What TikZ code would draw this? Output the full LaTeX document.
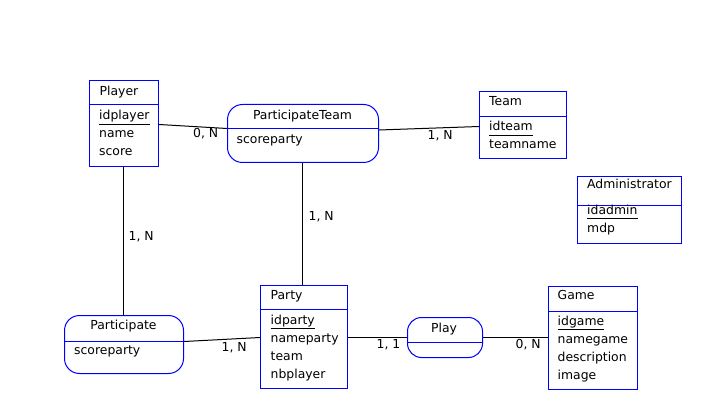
\documentclass[tikz,border=0pt]{standalone}
\usepackage{fontspec}
\setmainfont{DejaVu Sans}
\begin{document}
\begin{tikzpicture}[x=1pt,y=-1pt,
  font=\fontsize{12.4pt}{14pt}\selectfont,
  ent/.style={draw=blue, line width=1pt, anchor=north west, inner sep=0pt},
  rel/.style={draw=blue, line width=1pt, anchor=north west, inner sep=0pt, rounded corners=15pt},
  div/.style={draw=blue, line width=1pt},
  txt/.style={anchor=base west, inner sep=0pt},
  ttl/.style={anchor=base, inner sep=0pt},
  ul/.style={draw=black, line width=1pt},
  link/.style={draw=black, line width=1pt},
  card/.style={anchor=base west, inner sep=0pt}]
\useasboundingbox (0,0) rectangle (711,419);
\fill[white] (0,0) rectangle (711,419);

% Player
\node[ent, minimum width=69pt, minimum height=86pt] (player) at (89,80) {};
\draw[div] (89,105) -- (158,105);
\node[txt] (plT) at (99.5,96) {Player};
\node[txt] (plA) at (99,120) {idplayer};
\node[txt] (plB) at (99,138) {name};
\node[txt] (plC) at (99,156) {score};
\draw[ul] ([yshift=-4.5pt]plA.base west) -- ([yshift=-4.5pt]plA.base east);

% ParticipateTeam
\node[rel, minimum width=151pt, minimum height=58pt] (pt) at (227,104) {};
\draw[div] (227,129) -- (378,129);
\node[ttl] (ptT) at (302.5,119.5) {ParticipateTeam};
\node[txt] (ptA) at (236.5,144) {scoreparty};

% Team
\node[ent, minimum width=87pt, minimum height=67pt] (team) at (479,91) {};
\draw[div] (479,117) -- (566,117);
\node[txt] (tmT) at (489,106) {Team};
\node[txt] (tmA) at (489,131) {idteam};
\node[txt] (tmB) at (489,149) {teamname};
\draw[ul] ([yshift=-4.5pt]tmA.base west) -- ([yshift=-4.5pt]tmA.base east);

% Administrator
\node[ent, minimum width=104pt, minimum height=67pt] (admin) at (577,176) {};
\draw[div] (577,206) -- (681,206);
\node[txt] (adT) at (587,188.5) {Administrator};
\node[txt] (adA) at (587,214.5) {idadmin};
\node[txt] (adB) at (587,232.5) {mdp};
\draw[ul] ([yshift=-4.5pt]adA.base west) -- ([yshift=-4.5pt]adA.base east);

% Participate
\node[rel, minimum width=119pt, minimum height=58pt] (part) at (64,315) {};
\draw[div] (64,341) -- (183,341);
\node[ttl] (paT) at (123.5,329.5) {Participate};
\node[txt] (paA) at (74,354.5) {scoreparty};

% Party
\node[ent, minimum width=87pt, minimum height=103pt] (party) at (260,285) {};
\draw[div] (260,309) -- (347,309);
\node[txt] (pyT) at (270.5,299.5) {Party};
\node[txt] (pyA) at (270.5,324) {idparty};
\node[txt] (pyB) at (270.5,342) {nameparty};
\node[txt] (pyC) at (270.5,360) {team};
\node[txt] (pyD) at (270.5,378) {nbplayer};
\draw[ul] ([yshift=-4.5pt]pyA.base west) -- ([yshift=-4.5pt]pyA.base east);

% Play
\node[rel, minimum width=75pt, minimum height=40pt, rounded corners=14pt] (play) at (407,317) {};
\draw[div] (407,342) -- (482,342);
\node[ttl] (plyT) at (444,332.5) {Play};

% Game
\node[ent, minimum width=89pt, minimum height=103pt] (game) at (548,286) {};
\draw[div] (548,311) -- (637,311);
\node[txt] (gmT) at (557.5,299.5) {Game};
\node[txt] (gmA) at (557.5,325) {idgame};
\node[txt] (gmB) at (557.5,343) {namegame};
\node[txt] (gmC) at (557.5,361) {description};
\node[txt] (gmD) at (557.5,379) {image};
\draw[ul] ([yshift=-4.5pt]gmA.base west) -- ([yshift=-4.5pt]gmA.base east);

% Connectors
\draw[link] (player.east |- 0,124.5) -- (pt.west |- 0,128.5);
\node[card] (c1) at (193,138) {0, N};
\draw[link] (pt.east |- 0,130) -- (team.west |- 0,126.5);
\node[card] (c2) at (427.5,140) {1, N};
\draw[link] (player.south -| 123.5,0) -- (part.north -| 123.5,0);
\node[card] (c3) at (128.5,240.5) {1, N};
\draw[link] (pt.south -| 302.5,0) -- (party.north -| 302.5,0);
\node[card] (c4) at (308.5,220.5) {1, N};
\draw[link] (part.east |- 0,341.5) -- (party.west |- 0,337.5);
\node[card] (c5) at (221.5,351) {1, N};
\draw[link] (party.east |- 0,337) -- (play.west |- 0,337);
\node[card] (c6) at (376.5,348) {1, 1};
\draw[link] (play.east |- 0,337.5) -- (game.west |- 0,337.5);
\node[card] (c7) at (515.5,348) {0, N};
\end{tikzpicture}
\end{document}
